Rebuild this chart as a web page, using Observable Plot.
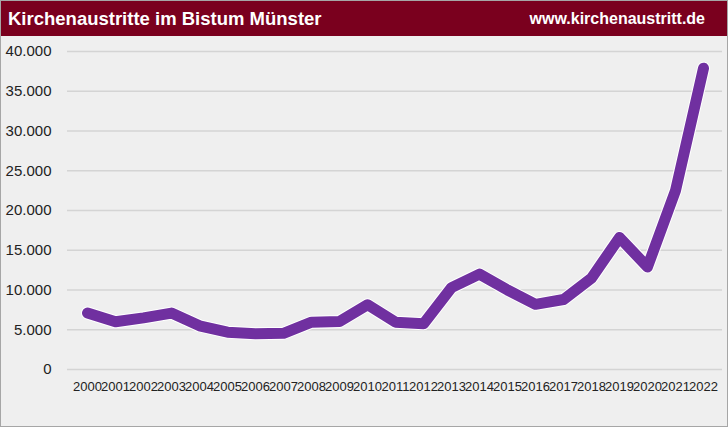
<!DOCTYPE html>
<html>
<head>
<meta charset="utf-8">
<script src="https://cdn.jsdelivr.net/npm/d3@7"></script>
<script src="https://cdn.jsdelivr.net/npm/@observablehq/plot@0.6"></script>
<style>
  html, body { margin: 0; padding: 0; background: #fff; }
  #wrap { width: 728px; height: 427px; box-sizing: border-box; border: 1px solid #a6a6a6; background: #efefef; overflow: hidden; }
  #head { height: 35px; background: #7a001e; display: flex; justify-content: space-between; align-items: center; padding: 0 22px 0 7px; color: #fff; font-weight: bold; font-family: "Liberation Sans", sans-serif; }
  #title { font-size: 18.5px; }
  #url { font-size: 16px; }
  #chart svg { display: block; }
</style>
</head>
<body>
<div id="wrap">
  <div id="head"><span id="title">Kirchenaustritte im Bistum Münster</span><span id="url">www.kirchenaustritt.de</span></div>
  <div id="chart"></div>
</div>
<script>
const years = ["2000","2001","2002","2003","2004","2005","2006","2007","2008","2009","2010","2011","2012","2013","2014","2015","2016","2017","2018","2019","2020","2021","2022"];
const austritte = [7100, 6000, 6500, 7100, 5500, 4700, 4500, 4550, 5950, 6050, 8150, 5950, 5750, 10300, 12000, 10000, 8200, 8800, 11500, 16600, 12900, 22500, 37900];
const yTicks = [0, 5000, 10000, 15000, 20000, 25000, 30000, 35000, 40000];

const data = years.map((y, i) => ({year: y, value: austritte[i]}));
const fmt = d => d3.format(",")(d).replace(/,/g, ".");

const chart = Plot.plot({
  width: 726,
  height: 390,
  marginTop: 15,
  marginBottom: 57,
  marginLeft: 66,
  marginRight: 5,
  style: {background: "transparent", fontFamily: "'Liberation Sans', sans-serif", color: "#222"},
  x: {type: "point", domain: years, padding: 0.5, label: null},
  y: {domain: [0, 40000], label: null},
  marks: [
    Plot.ruleY(yTicks, {stroke: "#d4d4d4", strokeWidth: 1.6}),
    Plot.axisY(yTicks, {tickSize: 0, tickPadding: 16, tickFormat: fmt, fontSize: 15, label: null}),
    Plot.axisX({tickSize: 0, tickPadding: 12, fontSize: 13, label: null}),
    Plot.line(data, {x: "year", y: "value", stroke: "#ffffff", strokeWidth: 13, strokeLinejoin: "round", strokeLinecap: "round"}),
    Plot.line(data, {x: "year", y: "value", stroke: "#7030a0", strokeWidth: 11, strokeLinejoin: "round", strokeLinecap: "round"})
  ]
});
document.getElementById("chart").appendChild(chart);
</script>
</body>
</html>
